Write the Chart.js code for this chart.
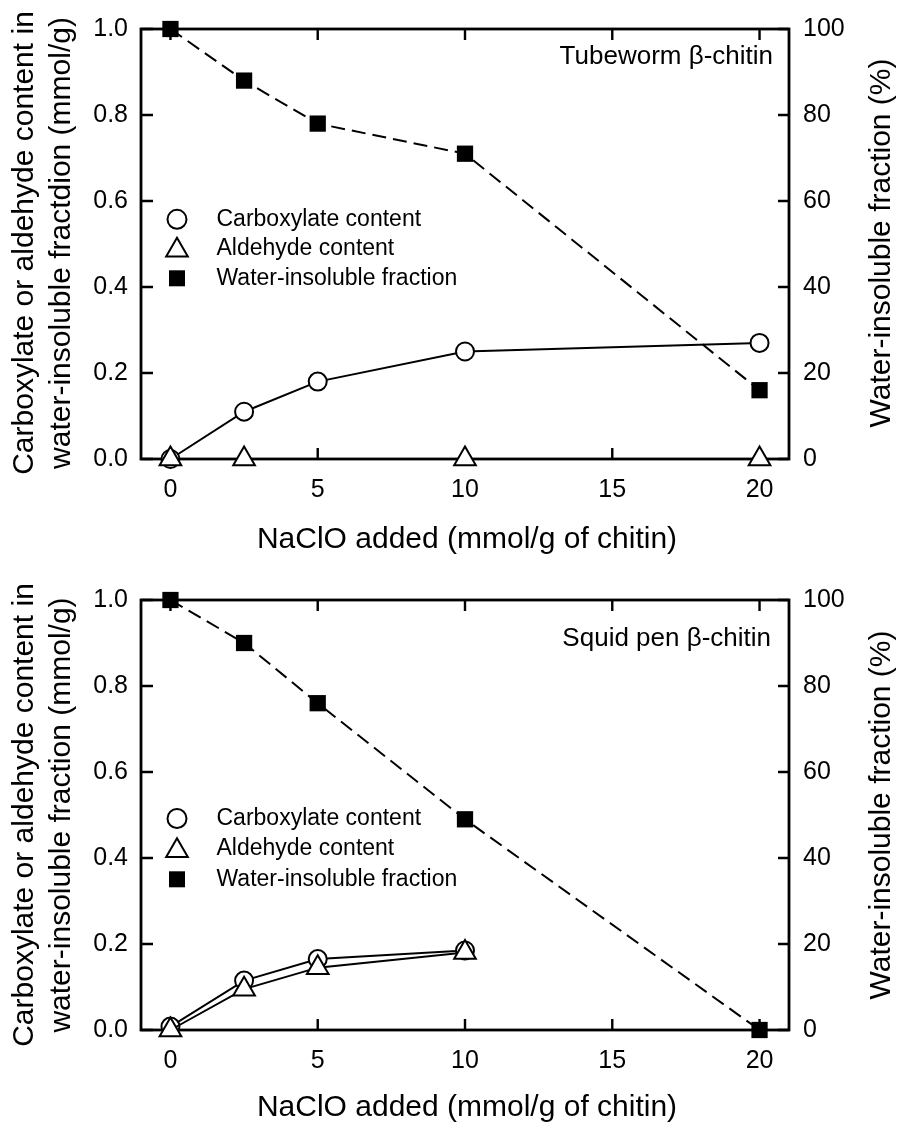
<!DOCTYPE html>
<html>
<head>
<meta charset="utf-8">
<script src="https://cdn.jsdelivr.net/npm/chart.js@4.4.0/dist/chart.umd.min.js"></script>
<style>
  html, body { margin: 0; padding: 0; background: #fff; }
  .box { position: relative; width: 898px; height: 563px; }
</style>
</head>
<body>
<div class="box"><canvas id="chartTop" width="898" height="563"></canvas></div>
<div class="box"><canvas id="chartBottom" width="898" height="563"></canvas></div>
<script>
// NaClO added (mmol/g of chitin) vs. contents
const tubeCarboxX = [0, 2.5, 5, 10, 20];
const tubeCarboxY = [0, 0.11, 0.18, 0.25, 0.27];
const tubeAldehydeX = [0, 2.5, 10, 20];
const tubeAldehydeY = [0, 0, 0, 0];
const tubeInsolX = [0, 2.5, 5, 10, 20];
const tubeInsolY = [100, 88, 78, 71, 16];

const squidCarboxX = [0, 2.5, 5, 10];
const squidCarboxY = [0.008, 0.115, 0.165, 0.185];
const squidAldehydeX = [0, 2.5, 5, 10];
const squidAldehydeY = [0, 0.095, 0.145, 0.18];
const squidInsolX = [0, 2.5, 5, 10, 20];
const squidInsolY = [100, 90, 76, 49, 0];

const xTicks = [0, 5, 10, 15, 20];
const leftTicks = [0, 0.2, 0.4, 0.6, 0.8, 1.0];
const rightTicks = [0, 20, 40, 60, 80, 100];
const legendLabels = ['Carboxylate content', 'Aldehyde content', 'Water-insoluble fraction'];
const xTitle = 'NaClO added (mmol/g of chitin)';
const rightTitle = 'Water-insoluble fraction (%)';

const FONT = '"Liberation Sans", Arial, Helvetica, sans-serif';

const circleStyle = {
    pointStyle: 'circle', pointRadius: 9, pointBackgroundColor: '#fff',
    pointBorderColor: '#000', pointBorderWidth: 2, borderColor: '#000', borderWidth: 2
};
const triangleStyle = {
    pointStyle: 'triangle', pointRadius: 12.5, pointBackgroundColor: '#fff',
    pointBorderColor: '#000', pointBorderWidth: 2, borderColor: '#000', borderWidth: 2
};
const squareStyle = {
    pointStyle: 'rect', pointRadius: 11.5, pointBackgroundColor: '#000',
    pointBorderColor: '#000', pointBorderWidth: 0, borderColor: '#000', borderWidth: 2,
    borderDash: [14, 7]
};

function series(label, xs, ys, style, axis) {
    return Object.assign({
        label: label,
        data: xs.map((x, i) => ({ x: x, y: ys[i] })),
        showLine: true,
        clip: false,
        yAxisID: axis
    }, style);
}

function drawText(ctx, str, x, y, size, align, rot) {
    ctx.save();
    ctx.translate(x, y);
    if (rot) ctx.rotate(rot);
    ctx.font = size + 'px ' + FONT;
    ctx.textAlign = align;
    ctx.textBaseline = 'middle';
    ctx.fillStyle = '#000';
    ctx.fillText(str, 0, 0);
    ctx.restore();
}

function drawMarker(ctx, kind, x, y) {
    ctx.save();
    ctx.strokeStyle = '#000';
    ctx.lineWidth = 2;
    ctx.beginPath();
    if (kind === 'circle') {
        ctx.arc(x, y, 9.5, 0, Math.PI * 2);
        ctx.fillStyle = '#fff';
        ctx.fill();
        ctx.stroke();
    } else if (kind === 'triangle') {
        const r = 12.5;
        for (let k = 0; k < 3; k++) {
            const a = k * 2 * Math.PI / 3;
            const px = x + Math.sin(a) * r, py = y - Math.cos(a) * r;
            if (k === 0) ctx.moveTo(px, py); else ctx.lineTo(px, py);
        }
        ctx.closePath();
        ctx.fillStyle = '#fff';
        ctx.fill();
        ctx.stroke();
    } else {
        ctx.fillStyle = '#000';
        ctx.fillRect(x - 8, y - 8, 16, 16);
    }
    ctx.restore();
}

// box, inward ticks
const framePlugin = {
    id: 'frame',
    beforeDatasetsDraw(chart) {
        const { ctx, chartArea: a, scales } = chart;
        ctx.save();
        ctx.strokeStyle = '#000';
        ctx.lineWidth = 2.8;
        ctx.strokeRect(a.left, a.top, a.right - a.left, a.bottom - a.top);
        ctx.lineWidth = 2.4;
        ctx.beginPath();
        xTicks.forEach(v => {
            const px = scales.x.getPixelForValue(v);
            ctx.moveTo(px, a.top); ctx.lineTo(px, a.top + 11);
            ctx.moveTo(px, a.bottom); ctx.lineTo(px, a.bottom - 11);
        });
        leftTicks.forEach(v => {
            const py = scales.y.getPixelForValue(v);
            ctx.moveTo(a.left, py); ctx.lineTo(a.left + 12, py);
        });
        rightTicks.forEach(v => {
            const py = scales.y2.getPixelForValue(v);
            ctx.moveTo(a.right, py); ctx.lineTo(a.right - 11, py);
        });
        ctx.stroke();
        ctx.restore();
    }
};

// titles, note and legend
const decoPlugin = {
    id: 'deco',
    afterDraw(chart, args, opts) {
        const { ctx } = chart;
        drawText(ctx, xTitle, 467, opts.xTitleY, 30, 'center');
        drawText(ctx, opts.leftTitle[0], 25, opts.midY, 30, 'center', -Math.PI / 2);
        drawText(ctx, opts.leftTitle[1], 62, opts.midY, 30, 'center', -Math.PI / 2);
        drawText(ctx, rightTitle, 882, opts.midY, 30, 'center', -Math.PI / 2);
        drawText(ctx, opts.note, opts.noteX, opts.noteY, 26, 'right');
        const kinds = ['circle', 'triangle', 'square'];
        legendLabels.forEach((lab, i) => {
            const y = opts.legendY[i];
            drawMarker(ctx, kinds[i], 177, kinds[i] === 'triangle' ? y + 2 : y);
            drawText(ctx, lab, 216.5, y, 23, 'left');
        });
    }
};

function makeChart(id, datasets, deco) {
    const tickFont = { family: FONT, size: 25 };
    return new Chart(document.getElementById(id), {
        type: 'scatter',
        data: { datasets: datasets },
        plugins: [framePlugin, decoPlugin],
        options: {
            responsive: false,
            animation: false,
            events: [],
            layout: { padding: { top: deco.padTop, left: 0, right: 0, bottom: 0 } },
            plugins: {
                legend: { display: false },
                tooltip: { enabled: false },
                deco: deco
            },
            scales: {
                x: {
                    type: 'linear', position: 'bottom', min: -1, max: 21,
                    afterBuildTicks: s => { s.ticks = xTicks.map(v => ({ value: v })); },
                    afterFit: s => { s.height = deco.xHeight; },
                    grid: { display: false, drawTicks: false },
                    border: { display: false },
                    ticks: { color: '#000', font: tickFont, padding: 16, maxRotation: 0,
                             callback: v => String(v) }
                },
                y: {
                    type: 'linear', position: 'left', min: 0, max: 1,
                    afterBuildTicks: s => { s.ticks = leftTicks.map(v => ({ value: v })); },
                    afterFit: s => { s.width = 141; },
                    grid: { display: false, drawTicks: false },
                    border: { display: false },
                    ticks: { color: '#000', font: tickFont, padding: 13,
                             callback: v => v.toFixed(1) }
                },
                y2: {
                    type: 'linear', position: 'right', min: 0, max: 100,
                    afterBuildTicks: s => { s.ticks = rightTicks.map(v => ({ value: v })); },
                    afterFit: s => { s.width = 109; },
                    grid: { display: false, drawTicks: false },
                    border: { display: false },
                    ticks: { color: '#000', font: tickFont, padding: 14,
                             callback: v => String(v) }
                }
            }
        }
    });
}

makeChart('chartTop', [
    series('Aldehyde content', tubeAldehydeX, tubeAldehydeY, triangleStyle, 'y'),
    series('Carboxylate content', tubeCarboxX, tubeCarboxY, circleStyle, 'y'),
    series('Water-insoluble fraction', tubeInsolX, tubeInsolY, squareStyle, 'y2')
], {
    padTop: 29, xHeight: 104,
    leftTitle: ['Carboxylate or aldehyde content in', 'water-insoluble fractdion (mmol/g)'],
    midY: 243, xTitleY: 540,
    note: 'Tubeworm \u03b2-chitin', noteX: 773, noteY: 57,
    legendY: [219.3, 248.3, 278.3]
});

makeChart('chartBottom', [
    series('Aldehyde content', squidAldehydeX, squidAldehydeY, triangleStyle, 'y'),
    series('Carboxylate content', squidCarboxX, squidCarboxY, circleStyle, 'y'),
    series('Water-insoluble fraction', squidInsolX, squidInsolY, squareStyle, 'y2')
], {
    padTop: 37, xHeight: 96,
    leftTitle: ['Carboxylate or aldehyde content in', 'water-insoluble fraction (mmol/g)'],
    midY: 252, xTitleY: 545,
    note: 'Squid pen \u03b2-chitin', noteX: 771, noteY: 76,
    legendY: [255.5, 285.8, 316.3]
});
</script>
</body>
</html>
